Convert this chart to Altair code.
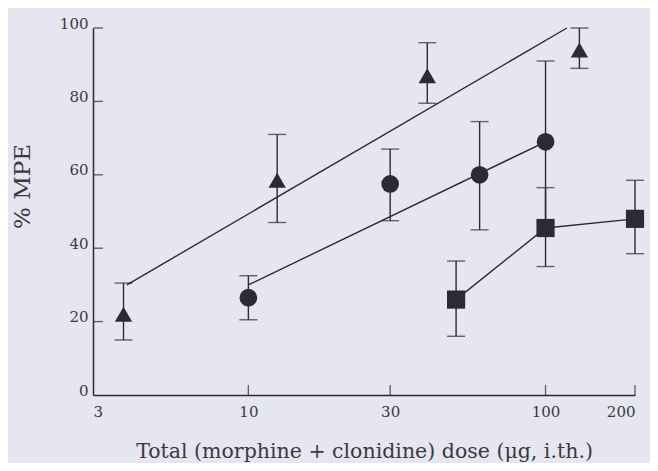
import altair as alt
import pandas as pd

# ---- data ----
tri_x = [3.8, 12.5, 40, 130]
tri_y = [22, 58.5, 87, 94]
tri_lo = [15, 47, 79.5, 89]
tri_hi = [30.5, 71, 96, 100]

circ_x = [10, 30, 60, 100]
circ_y = [26.5, 57.5, 60, 69]
circ_lo = [20.5, 47.5, 45, 47]
circ_hi = [32.5, 67, 74.5, 91]

sq_x = [50, 100, 200]
sq_y = [26, 45.5, 48]
sq_lo = [16, 35, 38.5]
sq_hi = [36.5, 56.5, 58.5]

# regression lines (triangles, circles)
tri_fit_x = [3.9, 118]
tri_fit_y = [30, 100]
circ_fit_x = [10, 100]
circ_fit_y = [30, 69]

x_ticks = [3, 10, 30, 100, 200]
y_ticks = [0, 20, 40, 60, 80, 100]

INK = "#2c2b33"
TEXT = "#3a3944"
BG = "#e5e6ef"
FONT = "DejaVu Serif"

pts = pd.DataFrame(
    [("tri", x, y, lo, hi) for x, y, lo, hi in zip(tri_x, tri_y, tri_lo, tri_hi)]
    + [("circ", x, y, lo, hi) for x, y, lo, hi in zip(circ_x, circ_y, circ_lo, circ_hi)]
    + [("sq", x, y, lo, hi) for x, y, lo, hi in zip(sq_x, sq_y, sq_lo, sq_hi)],
    columns=["series", "x", "y", "lo", "hi"],
)

lines = pd.DataFrame(
    [("tri", x, y) for x, y in zip(tri_fit_x, tri_fit_y)]
    + [("circ", x, y) for x, y in zip(circ_fit_x, circ_fit_y)]
    + [("sq", x, y) for x, y in zip(sq_x, sq_y)],
    columns=["series", "x", "y"],
)

xscale = alt.Scale(type="log", domain=[3, 200], nice=False)
yscale = alt.Scale(domain=[0, 100], nice=False)

X = alt.X(
    "x:Q",
    scale=xscale,
    axis=alt.Axis(
        values=x_ticks,
        format="d",
        ticks=False,
        grid=False,
        title="Total (morphine + clonidine) dose (μg, i.th.)",
        labelPadding=9,
        titlePadding=22,
        labelFontSize=15,
        titleFontSize=20.5,
    ),
)
Y = alt.Y(
    "y:Q",
    scale=yscale,
    axis=alt.Axis(
        values=y_ticks,
        ticks=False,
        grid=False,
        title="% MPE",
        labelBaseline="alphabetic",
        labelPadding=5,
        titleX=-71,
        titleY=158,
        titleAngle=270,
        titleAlign="center",
        titleBaseline="middle",
        labelFontSize=15,
        titleFontSize=23,
    ),
)

base_lines = alt.Chart(lines).mark_line(color=INK, strokeWidth=1.4).encode(
    x=X, y=Y, detail="series:N", order="x:Q"
)

err = alt.Chart(pts).mark_rule(color=INK, strokeWidth=1.4).encode(
    x=alt.X("x:Q", scale=xscale), y=alt.Y("lo:Q", scale=yscale), y2="hi:Q"
)
cap_lo = alt.Chart(pts).mark_tick(
    color=INK, orient="horizontal", size=18, thickness=1.4
).encode(x=alt.X("x:Q", scale=xscale), y=alt.Y("lo:Q", scale=yscale))
cap_hi = alt.Chart(pts).mark_tick(
    color=INK, orient="horizontal", size=18, thickness=1.4
).encode(x=alt.X("x:Q", scale=xscale), y=alt.Y("hi:Q", scale=yscale))

markers = alt.Chart(pts).mark_point(filled=True, opacity=1, color=INK).encode(
    x=alt.X("x:Q", scale=xscale),
    y=alt.Y("y:Q", scale=yscale),
    shape=alt.Shape(
        "series:N",
        scale=alt.Scale(domain=["tri", "circ", "sq"], range=["triangle-up", "circle", "square"]),
        legend=None,
    ),
    size=alt.Size(
        "series:N",
        scale=alt.Scale(domain=["tri", "circ", "sq"], range=[300, 330, 290]),
        legend=None,
    ),
)

# inward-pointing axis ticks
xt = alt.Chart(pd.DataFrame({"v": x_ticks[1:]})).mark_tick(
    color=INK, orient="vertical", size=10, thickness=1.4, yOffset=-5
).encode(x=alt.X("v:Q", scale=xscale), y=alt.datum(0))
yt = alt.Chart(pd.DataFrame({"v": y_ticks[1:]})).mark_tick(
    color=INK, orient="horizontal", size=10, thickness=1.4, xOffset=5
).encode(y=alt.Y("v:Q", scale=yscale), x=alt.datum(3))

chart = (
    alt.layer(base_lines, err, cap_lo, cap_hi, markers, xt, yt)
    .properties(
        width=542,
        height=367,
        autosize=alt.AutoSizeParams(type="none"),
        padding={"left": 85, "top": 20, "right": 15, "bottom": 68},
        background=BG,
    )
    .configure_view(stroke=None)
    .configure_axis(
        domainColor=INK,
        domainWidth=1.5,
        labelColor=TEXT,
        titleColor=TEXT,
        labelFont=FONT,
        titleFont=FONT,
        titleFontWeight="normal",
    )
)

chart.save("out.html", embed_options={"renderer": "svg", "actions": False})
